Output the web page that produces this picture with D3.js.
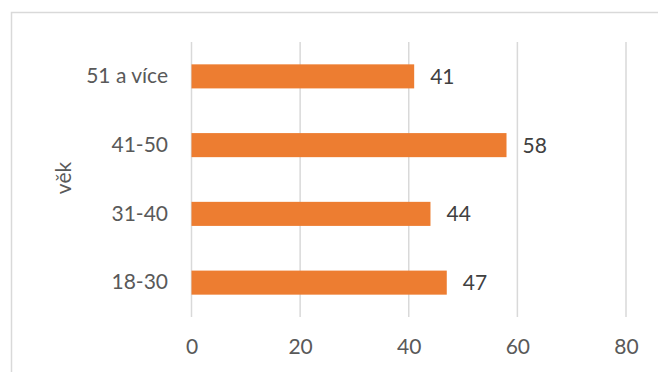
<!DOCTYPE html>
<html><head><meta charset="utf-8">
<script src="https://cdn.jsdelivr.net/npm/d3@7"></script>
<style>body{margin:0;background:#fff}svg{display:block}</style>
</head><body>
<script>
const categories = ["51 a více", "41-50", "31-40", "18-30"];
const values = [41, 58, 44, 47];
const xTicks = [0, 20, 40, 60, 80];
const axisTitle = "věk";

const W = 658, H = 372;
const svg = d3.select("body").append("svg").attr("width", W).attr("height", H);
const font = "Lato, 'Open Sans', sans-serif";
const txt = "#595959";

// chart border
svg.append("rect").attr("x", 11.5).attr("y", 12.5).attr("width", 700).attr("height", 400)
  .attr("fill", "none").attr("stroke", "#d9d9d9").attr("stroke-width", 1.5);

const x = d3.scaleLinear().domain([0, 80]).range([191.5, 626]);
const y = d3.scaleBand().domain(categories).range([42, 317]).paddingInner(0.65).paddingOuter(0.325);

// gridlines
svg.append("g").selectAll("line").data(xTicks).join("line")
  .attr("x1", d => x(d)).attr("x2", d => x(d)).attr("y1", 42).attr("y2", 317)
  .attr("stroke", "#d9d9d9").attr("stroke-width", 1.5);

// bars
svg.append("g").selectAll("rect").data(values).join("rect")
  .attr("x", x(0)).attr("y", (d, i) => y(categories[i]))
  .attr("width", d => x(d) - x(0)).attr("height", y.bandwidth())
  .attr("fill", "#ED7D31");

// value labels
svg.append("g").selectAll("text").data(values).join("text")
  .attr("x", d => x(d) + 16).attr("y", (d, i) => y(categories[i]) + y.bandwidth() / 2)
  .attr("dy", "0.36em").attr("font-family", font).attr("font-size", 21).attr("fill", "#404040")
  .text(d => d);

// x axis
const xa = svg.append("g").attr("transform", "translate(0,317)")
  .call(d3.axisBottom(x).tickValues(xTicks).tickSize(0).tickPadding(22));
xa.select(".domain").remove();
xa.selectAll("text").attr("font-family", font).attr("font-size", 21).attr("fill", txt);

// y axis
const ya = svg.append("g").attr("transform", "translate(168,0)")
  .call(d3.axisLeft(y).tickSize(0).tickPadding(0));
ya.select(".domain").remove();
ya.selectAll("text").attr("font-family", font).attr("font-size", 21).attr("fill", txt);

// axis title
svg.append("text").attr("transform", "translate(63,178) rotate(-90)")
  .attr("text-anchor", "middle").attr("dy", "0.36em")
  .attr("font-family", font).attr("font-size", 21).attr("fill", txt).text(axisTitle);
</script>
</body></html>
